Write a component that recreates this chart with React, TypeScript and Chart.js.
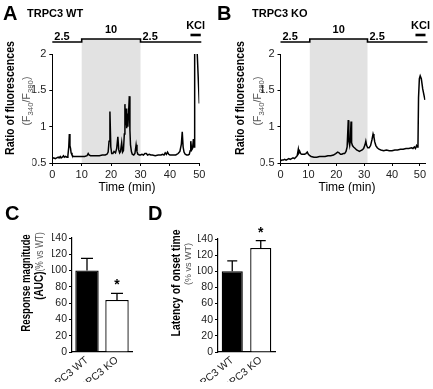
import React, { useEffect, useRef } from 'react';
import { Chart, registerables } from 'chart.js';

Chart.register(...registerables);

const FONT = "'Liberation Sans', Arial, Helvetica, sans-serif";

// ---- Panel A / B : fura-2 ratio traces [time (min), F340/F380] ----
const wtTrace: [number, number][] = [
  [0, 0.56], [0.5, 0.57], [1, 0.56], [1.5, 0.57], [2, 0.58], [2.3, 0.57], [2.7, 0.59], [3, 0.57], [3.4, 0.58], [3.8, 0.6],
  [4.1, 0.58], [4.5, 0.59], [5, 0.58], [5.3, 0.6], [5.6, 0.72], [5.8, 0.9], [6.0, 0.74], [6.2, 0.7], [6.4, 0.64], [6.7, 0.61],
  [7.1, 0.59], [8, 0.59], [9, 0.59], [10, 0.59], [11, 0.59], [11.8, 0.6], [12.2, 0.63], [12.5, 0.61], [13, 0.6], [14, 0.6],
  [15, 0.6], [16, 0.6], [17, 0.61], [18, 0.61], [18.6, 0.62], [19.0, 0.65], [19.3, 0.8], [19.6, 1.21], [19.9, 0.72], [20.2, 0.63],
  [20.6, 0.63], [21, 0.66], [21.5, 0.64], [21.9, 0.7], [22.3, 0.86], [22.6, 0.68], [22.9, 0.64], [23.2, 0.66], [23.6, 0.78], [23.9, 0.65],
  [24.2, 0.67], [24.5, 0.9], [24.7, 1.31], [24.9, 1.02], [25.1, 1.25], [25.3, 0.98], [25.5, 1.18], [25.7, 1.0], [25.9, 1.15], [26.2, 1.42],
  [26.4, 0.95], [26.6, 0.75], [26.9, 0.66], [27.2, 0.62], [27.7, 0.61], [28.1, 0.63], [28.5, 0.75], [28.8, 0.66], [29.1, 0.62], [29.6, 0.61],
  [30, 0.61], [30.5, 0.62], [31, 0.61], [31.5, 0.63], [32, 0.63], [32.4, 0.61], [33, 0.62], [33.5, 0.61], [34, 0.61], [35, 0.6],
  [36, 0.61], [37, 0.61], [37.5, 0.62], [38, 0.61], [38.4, 0.64], [38.8, 0.62], [39.2, 0.65], [39.6, 0.62], [40, 0.61], [41, 0.61],
  [42, 0.61], [42.8, 0.63], [43.4, 0.66], [43.9, 0.76], [44.2, 0.93], [44.5, 0.72], [44.8, 0.65], [45.2, 0.62], [45.7, 0.61], [46.2, 0.61],
  [46.6, 0.62], [46.9, 0.67], [47.1, 0.8], [47.4, 0.68], [47.7, 0.7], [48.0, 0.83], [48.2, 0.72], [48.35, 1.2], [48.5, 2.3], [49.1, 2.3],
  [49.3, 2.0], [50, 1.32],
];

const koTrace: [number, number][] = [
  [0, 0.53], [0.5, 0.54], [1, 0.54], [1.5, 0.55], [2, 0.54], [2.5, 0.55], [3, 0.56], [3.5, 0.55], [4, 0.56], [4.5, 0.57],
  [5, 0.56], [5.5, 0.58], [6.0, 0.6], [6.4, 0.69], [6.6, 0.64], [6.9, 0.66], [7.2, 0.63], [7.6, 0.62], [8.1, 0.62], [8.6, 0.62],
  [9.1, 0.63], [9.6, 0.65], [10, 0.62], [10.5, 0.6], [11, 0.59], [12, 0.58], [13, 0.58], [14, 0.59], [15, 0.59], [16, 0.59],
  [17, 0.6], [18, 0.6], [19, 0.61], [19.8, 0.63], [20.5, 0.65], [21, 0.64], [21.5, 0.62], [22, 0.62], [22.5, 0.63], [23, 0.63],
  [23.5, 0.66], [23.9, 0.72], [24.3, 1.09], [24.5, 0.8], [24.8, 0.74], [25.0, 0.8], [25.3, 1.07], [25.5, 0.78], [25.8, 0.74], [26.2, 0.72],
  [26.8, 0.7], [27.3, 0.68], [27.8, 0.67], [28.3, 0.66], [28.8, 0.67], [29.3, 0.68], [29.8, 0.7], [30.3, 0.75], [30.6, 0.8], [30.9, 0.74],
  [31.3, 0.71], [31.8, 0.71], [32.3, 0.74], [32.8, 0.82], [33.2, 0.9], [33.5, 0.86], [33.8, 0.79], [34.2, 0.74], [34.7, 0.71], [35.3, 0.69],
  [36, 0.68], [37, 0.67], [38, 0.68], [39, 0.67], [40, 0.67], [41, 0.68], [42, 0.68], [43, 0.69], [44, 0.69], [45, 0.7],
  [46, 0.7], [47, 0.71], [47.5, 0.7], [48, 0.72], [48.4, 0.7], [48.8, 0.74], [49.1, 0.72], [49.3, 0.74], [49.5, 1.4], [49.8, 1.66],
  [50.1, 1.7], [50.5, 1.66], [51, 1.52], [51.8, 1.37],
];

// external Ca2+ (mM) protocol
const stimLevels = ['2.5', '10', '2.5'];
const wtStimStart = [0, 10, 30];
const wtStimEnd = [10, 30, 50];
const wtKcl = [47, 50.5];
const koStimStart = [0, 10.5, 31.2];
const koStimEnd = [10.5, 31.2, 52];
const koKcl = [48.4, 52.0];

const wtTimeMax = 50;
const koTimeMax = 52;
const ratioMin = 0.5;
const ratioMax = 2;

// ---- Panel C / D : bar summaries ----
const groups = ['TRPC3 WT', 'TRPC3 KO'];
const aucMean = [100, 64];
const aucSem = [15, 8];
const aucSig = ['', '*'];
const latencyMean = [100, 129];
const latencySem = [13, 9];
const latencySig = ['', '*'];
const pctMax = 140;

function makeStimPlugin(starts: number[], ends: number[], levels: string[], kcl: number[]) {
  return {
    id: 'stim',
    beforeDraw(chart: any) {
      const { ctx, chartArea: a } = chart;
      const xs = chart.scales.x;
      const lowY = a.top - 12;
      const highY = a.top - 15;
      const maxLevel = Math.max(...levels.map(Number));
      ctx.save();
      starts.forEach((s, i) => {
        if (Number(levels[i]) === maxLevel) {
          const x0 = xs.getPixelForValue(s);
          const x1 = xs.getPixelForValue(ends[i]);
          ctx.fillStyle = '#e2e2e2';
          ctx.fillRect(x0, highY, x1 - x0, a.bottom - highY);
        }
      });
      ctx.strokeStyle = '#000';
      ctx.lineWidth = 1.6;
      ctx.beginPath();
      starts.forEach((s, i) => {
        const y = Number(levels[i]) === maxLevel ? highY : lowY;
        const x0 = i === 0 ? a.left : xs.getPixelForValue(s);
        const x1 = i === starts.length - 1 ? a.right + 2 : xs.getPixelForValue(ends[i]);
        if (i === 0) ctx.moveTo(x0, y);
        else ctx.lineTo(x0, y);
        ctx.lineTo(x1, y);
      });
      ctx.stroke();
      ctx.fillStyle = '#000';
      ctx.font = `bold 11px ${FONT}`;
      ctx.textBaseline = 'alphabetic';
      starts.forEach((s, i) => {
        const high = Number(levels[i]) === maxLevel;
        const x0 = xs.getPixelForValue(s);
        const x1 = xs.getPixelForValue(ends[i]);
        if (high) {
          ctx.textAlign = 'center';
          ctx.fillText(levels[i], (x0 + x1) / 2, a.top - 21);
        } else {
          ctx.textAlign = 'left';
          ctx.fillText(levels[i], x0 + 2, a.top - 14);
        }
      });
      const k0 = xs.getPixelForValue(kcl[0]);
      const k1 = xs.getPixelForValue(kcl[1]);
      ctx.lineWidth = 2.6;
      ctx.beginPath();
      ctx.moveTo(k0, a.top - 19);
      ctx.lineTo(k1, a.top - 19);
      ctx.stroke();
      ctx.textAlign = 'center';
      ctx.fillText('KCl', (k0 + k1) / 2, a.top - 25);
      ctx.restore();
    },
  };
}

function makeErrorPlugin(mean: number[], sem: number[], sig: string[], cap: number) {
  return {
    id: 'errbars',
    afterDatasetsDraw(chart: any) {
      const { ctx } = chart;
      const meta = chart.getDatasetMeta(0);
      const ys = chart.scales.y;
      ctx.save();
      ctx.strokeStyle = '#000';
      ctx.lineWidth = 1.3;
      meta.data.forEach((bar: any, i: number) => {
        const yTop = ys.getPixelForValue(mean[i] + sem[i]);
        const yBar = ys.getPixelForValue(mean[i]);
        ctx.beginPath();
        ctx.moveTo(bar.x, yBar);
        ctx.lineTo(bar.x, yTop);
        ctx.moveTo(bar.x - cap / 2, yTop);
        ctx.lineTo(bar.x + cap / 2, yTop);
        ctx.stroke();
        if (sig[i]) {
          ctx.fillStyle = '#000';
          ctx.font = `bold 14px ${FONT}`;
          ctx.textAlign = 'center';
          ctx.textBaseline = 'alphabetic';
          ctx.fillText(sig[i], bar.x, yTop - 4);
        }
      });
      ctx.restore();
    },
  };
}

const tickFont = { size: 11, family: FONT };
const plainNumber = (v: any) => String(Number(v));

function traceConfig(trace: [number, number][], xMax: number, starts: number[], ends: number[], kcl: number[], padding: any) {
  return {
    type: 'line' as const,
    data: {
      datasets: [
        {
          data: trace.map(([t, v]) => ({ x: t, y: v })),
          borderColor: '#000',
          borderWidth: 1.5,
          pointRadius: 0,
          tension: 0,
          fill: false,
        },
      ],
    },
    options: {
      animation: false as const,
      responsive: false,
      events: [],
      layout: { padding },
      plugins: { legend: { display: false }, tooltip: { enabled: false } },
      scales: {
        x: {
          type: 'linear' as const,
          min: 0,
          max: xMax,
          afterFit: (s: any) => { s.height = 20; },
          ticks: { stepSize: 10, includeBounds: false, font: tickFont, color: '#222', padding: 2, maxRotation: 0, callback: plainNumber },
          grid: { drawOnChartArea: false, drawTicks: true, tickLength: 3, color: '#000' },
          border: { color: '#000', width: 1 },
        },
        y: {
          min: ratioMin,
          max: ratioMax,
          afterFit: (s: any) => { s.width = 20; },
          ticks: { stepSize: 0.5, font: tickFont, color: '#222', padding: 3, callback: plainNumber },
          grid: { drawOnChartArea: false, drawTicks: true, tickLength: 3, color: '#000' },
          border: { color: '#000', width: 1 },
        },
      },
    },
    plugins: [makeStimPlugin(starts, ends, stimLevels, kcl)],
  };
}

function barConfig(mean: number[], sem: number[], sig: string[], barPct: number, cap: number, padding: any) {
  return {
    type: 'bar' as const,
    data: {
      labels: groups,
      datasets: [
        {
          data: mean,
          backgroundColor: ['#000', '#fff'],
          borderColor: '#000',
          borderWidth: 1.3,
          barPercentage: barPct,
          categoryPercentage: 1,
        },
      ],
    },
    options: {
      animation: false as const,
      responsive: false,
      events: [],
      layout: { padding },
      plugins: { legend: { display: false }, tooltip: { enabled: false } },
      scales: {
        x: {
          afterFit: (s: any) => { s.height = 30; },
          ticks: { font: { size: 10.5, family: FONT }, color: '#222', minRotation: 40, maxRotation: 40, padding: 2 },
          grid: { display: false, drawTicks: false },
          border: { color: '#000', width: 1.2 },
        },
        y: {
          min: 0,
          max: pctMax,
          afterFit: (s: any) => { s.width = 20; },
          ticks: { stepSize: 20, font: { size: 10.5, family: FONT }, color: '#222', padding: 2 },
          grid: { drawOnChartArea: false, drawTicks: true, tickLength: 3, color: '#000' },
          border: { color: '#000', width: 1.2 },
        },
      },
    },
    plugins: [makeErrorPlugin(mean, sem, sig, cap)],
  };
}

function H(props: { x: number; base: number; size: number; bold?: boolean; color?: string; center?: boolean; children: any }) {
  const { x, base, size, bold, color, center, children } = props;
  return (
    <div
      style={{
        position: 'absolute',
        left: x,
        top: base - 0.8465 * size,
        fontSize: size,
        lineHeight: `${size}px`,
        fontWeight: bold ? 700 : 400,
        color: color || '#000',
        whiteSpace: 'nowrap',
        transform: center ? 'translateX(-50%)' : undefined,
      }}
    >
      {children}
    </div>
  );
}

function V(props: { cx: number; cy: number; size: number; bold?: boolean; color?: string; sx?: number; children: any }) {
  const { cx, cy, size, bold, color, sx = 1, children } = props;
  return (
    <div
      style={{
        position: 'absolute',
        left: cx,
        top: cy,
        fontSize: size,
        lineHeight: `${size}px`,
        fontWeight: bold ? 700 : 400,
        color: color || '#000',
        whiteSpace: 'nowrap',
        transform: `translate(-50%, -50%) rotate(-90deg) scaleX(${sx})`,
      }}
    >
      {children}
    </div>
  );
}

const subStyle = { fontSize: '0.75em', verticalAlign: 'sub', lineHeight: 0 } as const;

export default function App() {
  const aRef = useRef<HTMLCanvasElement>(null);
  const bRef = useRef<HTMLCanvasElement>(null);
  const cRef = useRef<HTMLCanvasElement>(null);
  const dRef = useRef<HTMLCanvasElement>(null);

  useEffect(() => {
    Chart.defaults.font.family = FONT;
    const charts = [
      new Chart(aRef.current as HTMLCanvasElement, traceConfig(wtTrace, wtTimeMax, wtStimStart, wtStimEnd, wtKcl, { left: 32.3, top: 54, right: 16.7, bottom: 17 }) as any),
      new Chart(bRef.current as HTMLCanvasElement, traceConfig(koTrace, koTimeMax, koStimStart, koStimEnd, koKcl, { left: 44.5, top: 54, right: 7.5, bottom: 17 }) as any),
      new Chart(cRef.current as HTMLCanvasElement, barConfig(aucMean, aucSem, aucSig, 0.78, 12, { left: 52, top: 38, right: 18, bottom: 7 }) as any),
      new Chart(dRef.current as HTMLCanvasElement, barConfig(latencyMean, latencySem, latencySig, 0.74, 10, { left: 48, top: 39, right: 158, bottom: 7 }) as any),
    ];
    return () => charts.forEach((c) => c.destroy());
  }, []);

  const cv = (left: number, top: number, w: number, h: number) => ({ position: 'absolute' as const, left, top, width: w, height: h });

  return (
    <div style={{ position: 'fixed', left: 0, top: 0, width: 433, height: 389, background: '#fff', overflow: 'hidden', fontFamily: FONT }}>
      <canvas ref={aRef} width={216} height={200} style={cv(0, 0, 216, 200)} />
      <canvas ref={bRef} width={217} height={200} style={cv(216, 0, 217, 200)} />
      <canvas ref={cRef} width={150} height={189} style={cv(0, 200, 150, 189)} />
      <canvas ref={dRef} width={283} height={189} style={cv(150, 200, 283, 189)} />

      {/* Panel A */}
      <H x={3} base={20} size={20} bold>A</H>
      <H x={27} base={17} size={11} bold>TRPC3 WT</H>
      <V cx={10} cy={98} size={12.5} bold sx={0.85}>Ratio of fluorescences</V>
      <V cx={26} cy={101} size={10.5} color="#555">
        (F<span style={subStyle}>340</span>/F<span style={subStyle}>380</span>)
      </V>
      <H x={127} base={191} size={12} center>Time (min)</H>

      {/* Panel B */}
      <H x={217} base={20} size={20} bold>B</H>
      <H x={252} base={17} size={11} bold>TRPC3 KO</H>
      <V cx={240} cy={98} size={12.5} bold sx={0.85}>Ratio of fluorescences</V>
      <V cx={257} cy={101} size={10.5} color="#555">
        (F<span style={subStyle}>340</span>/F<span style={subStyle}>380</span>)
      </V>
      <H x={347} base={191} size={12} center>Time (min)</H>

      {/* Panel C */}
      <H x={5} base={220} size={20} bold>C</H>
      <V cx={25} cy={283} size={13} bold sx={0.74}>Response magnitude</V>
      <V cx={39} cy={266} size={12.5} sx={0.8}>
        <span style={{ fontWeight: 700 }}>(AUC)</span>
        <span style={{ fontSize: 10.5, color: '#555' }}>(% vs WT)</span>
      </V>

      {/* Panel D */}
      <H x={148} base={220} size={20} bold>D</H>
      <V cx={175} cy={283} size={13} bold sx={0.8}>Latency of onset time</V>
      <V cx={188} cy={264} size={9} color="#555">(% vs WT)</V>
    </div>
  );
}
